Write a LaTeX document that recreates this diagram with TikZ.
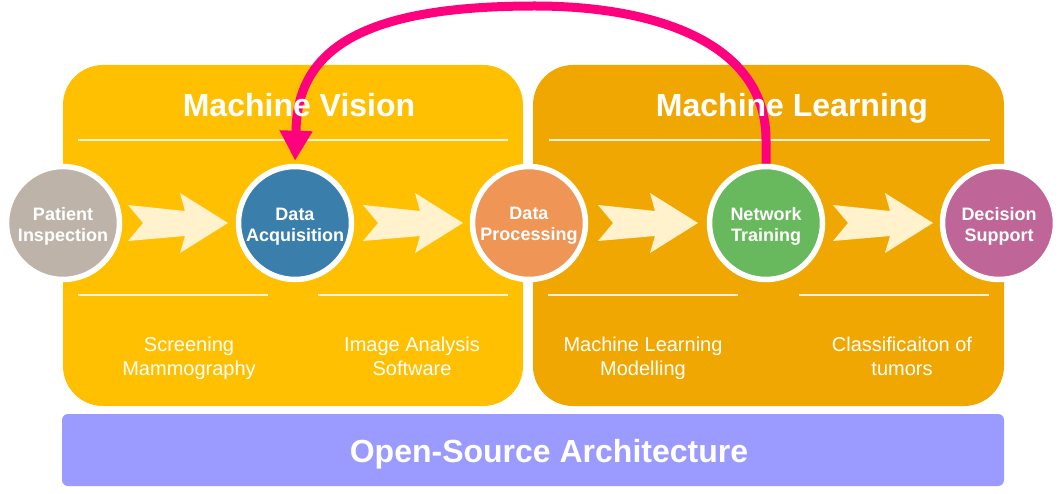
\documentclass[tikz,border=0pt]{standalone}
\usepackage{fontspec}
\setmainfont{Liberation Sans}
\usetikzlibrary{arrows.meta}
\definecolor{mvyellow}{HTML}{FEC000}
\definecolor{mlorange}{HTML}{F0A702}
\definecolor{cream}{HTML}{FFF2CC}
\definecolor{barblue}{HTML}{9A9AFF}
\definecolor{hotpink}{HTML}{FF007F}
\definecolor{cgray}{HTML}{BEB3A9}
\definecolor{cblue}{HTML}{3A7EAB}
\definecolor{corange}{HTML}{EF9556}
\definecolor{cgreen}{HTML}{68B95E}
\definecolor{cpurple}{HTML}{BF6598}
\tikzset{
  panel/.style={rounded corners=40pt},
  divline/.style={draw=white, line width=2pt, opacity=0.85},
  stage/.style={circle, draw=white, line width=5.5pt, minimum size=113pt, inner sep=0pt},
  stagetext/.style={text=white, font=\fontsize{18}{21}\selectfont\bfseries, align=center, inner sep=0pt},
  chevron/.style={fill=cream},
  title/.style={text=white, font=\fontsize{32}{38}\selectfont\bfseries, inner sep=0pt},
  sublabel/.style={text=white, font=\fontsize{20}{24}\selectfont, align=center, inner sep=0pt, anchor=north},
  loopback/.style={draw=hotpink, line width=9pt, -{Triangle[width=31pt,length=30pt]}, shorten >=3pt}
}
\begin{document}
\begin{tikzpicture}[x=1pt,y=-1pt]
\useasboundingbox (0,0) rectangle (1062,494);
% panels
\fill[mvyellow, panel] (63,65) rectangle (523,406);
\fill[mlorange, panel] (533,65) rectangle (1004,406);
\fill[barblue, rounded corners=6pt] (62,414) rectangle (1004,486);
% divider lines
\draw[divline] (78,140) -- (508,140);
\draw[divline] (549,140) -- (990,140);
\draw[divline] (78,295) -- (268,295);
\draw[divline] (318,295) -- (508,295);
\draw[divline] (548,295) -- (738,295);
\draw[divline] (799,295) -- (989,295);
% chevrons
\foreach \sx in {128,363,598,833}{
  \fill[chevron] (\sx,205) -- (\sx+15,223) -- (\sx,241) -- (\sx+57,236) -- (\sx+52,253)
     -- (\sx+100,223) -- (\sx+52,193) -- (\sx+57,211) -- cycle;
}
% stages
\node[stage, fill=cgray] (pi) at (63,223) {};
\node[stage, fill=cblue] (da) at (295,223) {};
\node[stage, fill=corange] (dp) at (529,223) {};
\node[stage, fill=cgreen] (nt) at (766,223) {};
\node[stage, fill=cpurple] (ds) at (999,223) {};
\node[stagetext] (pit) at ([yshift=-3pt]pi.center) {Patient\\Inspection};
\node[stagetext] (dat) at ([yshift=-4pt]da.center) {Data\\Acquisition};
\node[stagetext] (dpt) at ([yshift=-3pt]dp.center) {Data\\Processing};
\node[stagetext] (ntt) at ([yshift=-3pt]nt.center) {Network\\Training};
\node[stagetext] (dst) at ([yshift=-3pt]ds.center) {Decision\\Support};
% loop back arrow
\draw[loopback] (nt.north) -- (766,140) .. controls (766,40) and (650,6) .. (535,6)
   .. controls (370,6) and (296,45) .. (296,133) -- (da.north);
% titles
\node[title, anchor=base] (mv) at (299,117) {Machine Vision};
\node[title, anchor=base] (ml) at (792,117) {Machine Learning};
\node[title, anchor=base] (osa) at (549,462) {Open-Source Architecture};
% sublabels
\node[sublabel] (l1) at (189,336.5) {Screening\\Mammography};
\node[sublabel] (l2) at (412,336.5) {Image Analysis\\Software};
\node[sublabel] (l3) at (643,336.5) {Machine Learning\\Modelling};
\node[sublabel] (l4) at (902,336.5) {Classificaiton of\\tumors};
\end{tikzpicture}
\end{document}
